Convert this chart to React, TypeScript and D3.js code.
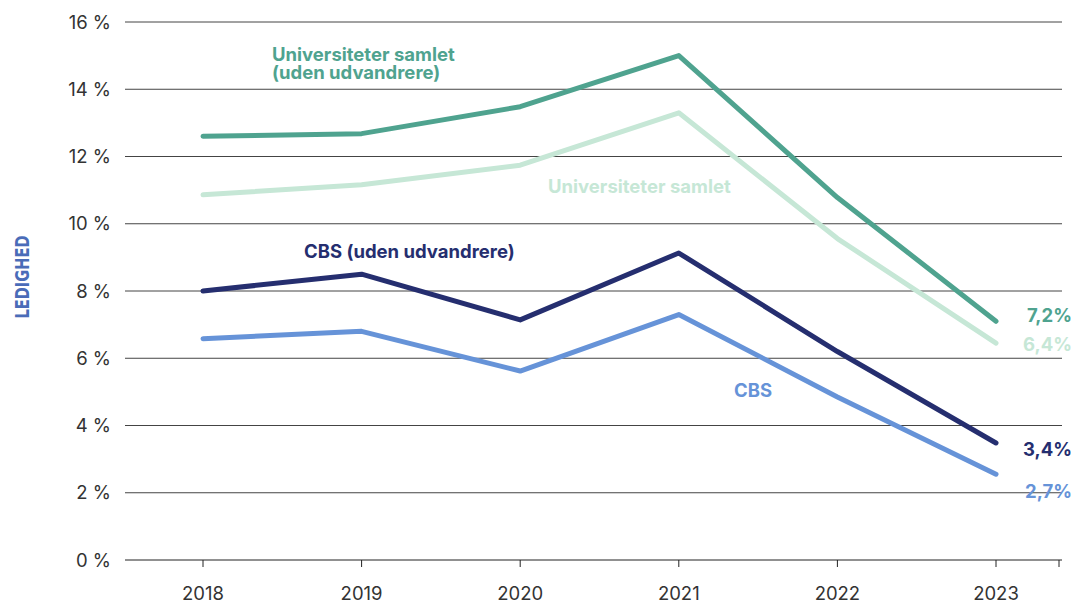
import { useEffect } from 'react';
import * as d3 from 'd3';

// Ledighed, pct.
const years = [2018, 2019, 2020, 2021, 2022, 2023];
const uniUden = [12.6, 12.68, 13.48, 15.0, 10.78, 7.1];
const uniSamlet = [10.86, 11.16, 11.74, 13.3, 9.56, 6.45];
const cbsUden = [8.0, 8.5, 7.14, 9.13, 6.2, 3.48];
const cbs = [6.58, 6.8, 5.62, 7.3, 4.85, 2.55];
const yTicks = [0, 2, 4, 6, 8, 10, 12, 14, 16];
const endLabels = ['7,2%', '6,4%', '3,4%', '2,7%'];

const W = 1076, H = 603;
const font = 'Inter, "Noto Sans", sans-serif';

const App = () => {
  useEffect(() => {
    document.body.style.margin = '0';
  }, []);

  const x = d3.scalePoint<number>().domain(years).range([203, 996]);
  const y = d3.scaleLinear().domain([0, 16]).range([560, 22]);
  const line = d3.line<number>().x((_, i) => x(years[i])!).y(d => y(d));

  const series = [
    { values: uniUden, color: '#4fa38f' },
    { values: uniSamlet, color: '#c6e7d6' },
    { values: cbsUden, color: '#252e6f' },
    { values: cbs, color: '#6693d8' },
  ];

  return (
    <svg width={W} height={H} style={{ display: 'block' }}>
      {/* gridlines */}
      {yTicks.map(t => (
        <g key={t}>
          <line x1={125} x2={1062} y1={y(t)} y2={y(t)} stroke={t === 0 ? '#222' : '#444'} strokeWidth={1} />
          <text x={111} y={y(t)} dy="0.36em" textAnchor="end" fontFamily={font} fontSize={18.5} fill="#333">
            {t} %
          </text>
        </g>
      ))}
      {/* x ticks */}
      {[...years.map(v => x(v)!), 1059].map((px, i) => (
        <line key={i} x1={px} x2={px} y1={y(0)} y2={y(0) + 7} stroke="#222" />
      ))}
      {years.map(v => (
        <text key={v} x={x(v)} y={600} textAnchor="middle" fontFamily={font} fontSize={18.5} fill="#333">
          {v}
        </text>
      ))}
      <text
        transform={`translate(29,277) rotate(-90)`}
        textAnchor="middle"
        fontFamily='"DejaVu Sans Condensed", "DejaVu Sans", sans-serif'
        fontWeight="bold"
        fontSize={20}
        textLength={83}
        lengthAdjust="spacingAndGlyphs"
        fill="#4a6cb8"
      >
        LEDIGHED
      </text>
      {series.map((s, i) => (
        <path key={i} d={line(s.values)!} fill="none" stroke={s.color} strokeWidth={5}
          strokeLinecap="round" strokeLinejoin="round" />
      ))}
      {/* series labels */}
      <g fontFamily={font} fontWeight="bold" fontSize={18.5}>
        <text x={272} y={61} fill="#4fa38f">Universiteter samlet</text>
        <text x={272} y={79} fill="#4fa38f">(uden udvandrere)</text>
        <text x={548} y={193} fill="#c6e7d6">Universiteter samlet</text>
        <text x={304} y={258} fill="#252e6f">CBS (uden udvandrere)</text>
        <text x={734} y={397} fill="#6693d8">CBS</text>
        {endLabels.map((l, i) => (
          <text key={l} x={1072} y={[322, 351, 456, 498][i]} textAnchor="end" fill={series[i].color}>
            {l}
          </text>
        ))}
      </g>
    </svg>
  );
};

export default App;
